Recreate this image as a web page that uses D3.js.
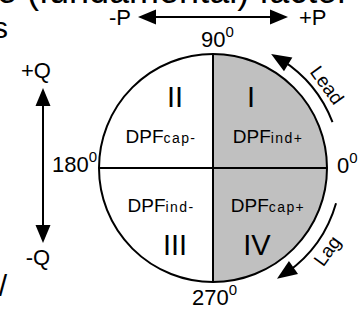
<!DOCTYPE html>
<html>
<head>
<meta charset="utf-8">
<script src="https://cdn.jsdelivr.net/npm/d3@7"></script>
<style>
  body { margin: 0; background: #fff; }
  svg text { font-family: "Liberation Sans", Arial, sans-serif; fill: #000; }
</style>
</head>
<body>
<div id="container"></div>
<script>
// quadrants, clockwise from 12 o'clock (d3.arc convention)
var quadrants = ["I", "IV", "III", "II"];
var dpfMain = ["DPF", "DPF", "DPF", "DPF"];
var dpfSub = ["ind+", "cap+", "ind-", "cap-"];
var quadFill = ["#c0c0c0", "#c0c0c0", "#ffffff", "#ffffff"];
var angleLabels = ["90", "0", "270", "180"];
var axisP = ["-P", "+P"];
var axisQ = ["+Q", "-Q"];
var arcLabels = ["Lead", "Lag"];
// arc extents in degrees (math angle, ccw from +P axis)
var leadDeg = [21, 63];
var lagDeg = [-16, -60];

var width = 361, height = 309;
var cx = 213, cy = 168, R = 114;

var svg = d3.select("#container").append("svg")
  .attr("width", width).attr("height", height);

// cut-off text from surrounding document
svg.append("text").attr("x", -3).attr("y", 3).attr("font-size", 36).text("e (fundamental) factor");
svg.append("text").attr("x", 8).attr("y", 38).attr("font-size", 30).attr("text-anchor", "end").text("s");
svg.append("text").attr("x", 7).attr("y", 296).attr("font-size", 30).attr("text-anchor", "end").text("/");

var ang = d3.scaleLinear().domain([0, 4]).range([0, 2 * Math.PI]);
var arc = d3.arc().innerRadius(0).outerRadius(R);

var g = svg.append("g").attr("transform", "translate(" + cx + "," + cy + ")");
g.selectAll("path.q").data(quadrants).enter().append("path")
  .attr("class", "q")
  .attr("d", function(d, i) { return arc({startAngle: ang(i), endAngle: ang(i + 1)}); })
  .attr("fill", function(d, i) { return quadFill[i]; });

g.append("line").attr("x1", -R).attr("x2", R).attr("y1", 0).attr("y2", 0)
  .attr("stroke", "#000").attr("stroke-width", 2);
g.append("line").attr("y1", -R).attr("y2", R).attr("x1", 0).attr("x2", 0)
  .attr("stroke", "#000").attr("stroke-width", 2);
g.append("circle").attr("r", R).attr("fill", "none").attr("stroke", "#000").attr("stroke-width", 2);

// quadrant labels
var sx = [1, 1, -1, -1], sy = [-1, 1, 1, -1];
g.selectAll("text.roman").data(quadrants).enter().append("text")
  .attr("class", "roman")
  .attr("x", function(d, i) { return sx[i] * (d == "IV" ? 44 : 38); })
  .attr("y", function(d, i) { return sy[i] < 0 ? -61 : 87; })
  .attr("font-size", 29).attr("text-anchor", "middle")
  .text(function(d) { return d; });

var dpf = g.selectAll("text.dpf").data(dpfMain).enter().append("text")
  .attr("class", "dpf")
  .attr("x", function(d, i) { return sx[i] > 0 ? 55 : -52; })
  .attr("y", function(d, i) { return sy[i] < 0 ? -25 : 44; })
  .attr("font-size", 19).attr("text-anchor", "middle");
dpf.append("tspan").text(function(d) { return d; });
dpf.append("tspan").attr("font-size", 14).attr("letter-spacing", 1.4)
  .text(function(d, i) { return dpfSub[i]; });

// degree labels with superscript
function degLabel(x, y, txt) {
  var t = svg.append("text").attr("x", x).attr("y", y).attr("font-size", 22);
  t.append("tspan").text(txt);
  t.append("tspan").attr("font-size", 15).attr("dy", -10).text("0");
}
degLabel(cx - 12, cy - R - 7, angleLabels[0]);
degLabel(cx + R + 10, cy + 5, angleLabels[1]);
degLabel(cx - 21, cy + R + 23, angleLabels[2]);
degLabel(cx - R - 47, cy + 4, angleLabels[3]);

// arrowhead polygon: tip point and direction (radians, screen)
function head(tx, ty, dir, len, hw) {
  var bx = tx - len * Math.cos(dir), by = ty - len * Math.sin(dir);
  var px = -Math.sin(dir) * hw, py = Math.cos(dir) * hw;
  return "M" + tx + "," + ty + "L" + (bx + px) + "," + (by + py) + "L" + (bx - px) + "," + (by - py) + "Z";
}

// P axis arrow
var px0 = 138, px1 = 288, py0 = 17;
svg.append("line").attr("x1", px0 + 10).attr("x2", px1 - 10).attr("y1", py0).attr("y2", py0)
  .attr("stroke", "#000").attr("stroke-width", 2);
svg.append("path").attr("d", head(px0, py0, Math.PI, 18, 7.5));
svg.append("path").attr("d", head(px1, py0, 0, 18, 7.5));
svg.append("text").attr("x", px0 - 7).attr("y", py0 + 8).attr("font-size", 22).attr("text-anchor", "end").text(axisP[0]);
svg.append("text").attr("x", px1 + 11).attr("y", py0 + 8).attr("font-size", 22).text(axisP[1]);

// Q axis arrow
var qx = 43, qy0 = 88, qy1 = 243;
svg.append("line").attr("x1", qx).attr("x2", qx).attr("y1", qy0 + 10).attr("y2", qy1 - 10)
  .attr("stroke", "#000").attr("stroke-width", 2);
svg.append("path").attr("d", head(qx, qy0, -Math.PI / 2, 18, 7.5));
svg.append("path").attr("d", head(qx, qy1, Math.PI / 2, 18, 7.5));
svg.append("text").attr("x", qx - 7).attr("y", qy0 - 10).attr("font-size", 22).attr("text-anchor", "middle").text(axisQ[0]);
svg.append("text").attr("x", qx - 5).attr("y", qy1 + 22).attr("font-size", 22).attr("text-anchor", "middle").text(axisQ[1]);

// Lead / Lag arcs
var AR = 128, headLen = 20;
function rad(d) { return d * Math.PI / 180; }
function curvedArrow(degs) {
  var a0 = rad(degs[0]), a1 = rad(degs[1]);
  var dirSign = a1 > a0 ? 1 : -1;
  var back = headLen / AR * dirSign;
  var p = d3.path();
  p.arc(cx, cy, AR, -a0, -(a1 - back * 0.6), dirSign > 0);
  svg.append("path").attr("d", p.toString()).attr("fill", "none")
    .attr("stroke", "#000").attr("stroke-width", 2);
  var tx = cx + AR * Math.cos(a1), ty = cy - AR * Math.sin(a1);
  var ab = a1 - back;
  var bx = cx + AR * Math.cos(ab), by = cy - AR * Math.sin(ab);
  svg.append("path").attr("d", head(tx, ty, Math.atan2(ty - by, tx - bx), headLen, 8));
}
curvedArrow(leadDeg);
curvedArrow(lagDeg);

var labelDeg = [36, -36];
svg.selectAll("text.arcl").data(arcLabels).enter().append("text")
  .attr("class", "arcl")
  .attr("font-size", 19).attr("text-anchor", "middle").attr("dy", "0.35em")
  .attr("transform", function(d, i) {
    var a = rad(labelDeg[i]);
    var x = cx + 141 * Math.cos(a), y = cy - 141 * Math.sin(a);
    var rot = labelDeg[i] > 0 ? 90 - labelDeg[i] : -(90 + labelDeg[i]);
    return "translate(" + x + "," + y + ") rotate(" + rot + ")";
  })
  .text(function(d) { return d; });
</script>
</body>
</html>
